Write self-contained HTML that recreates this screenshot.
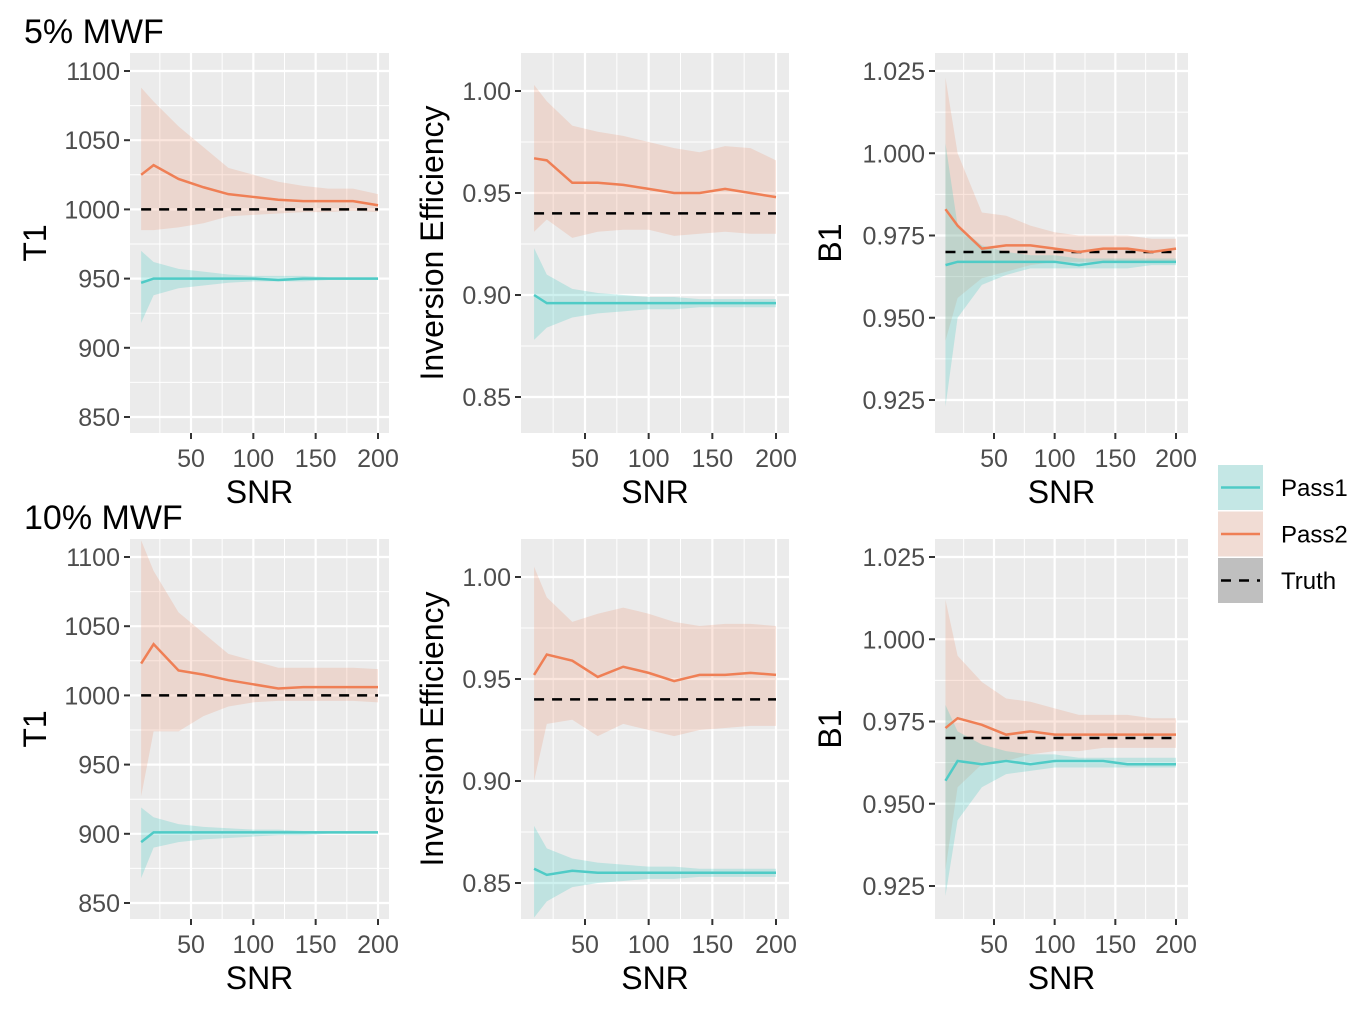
<!DOCTYPE html>
<html><head><meta charset="utf-8"><style>
body{margin:0;background:#fff;}
svg text{font-family:"Liberation Sans",Arial,sans-serif;}
</style></head><body>
<svg id="chart" width="1370" height="1006" xmlns="http://www.w3.org/2000/svg"></svg>
<script>
const snr = [10,20,40,60,80,100,120,140,160,180,200];
const xTicks = [50,100,150,200];
// Top row (5% MWF)
const t1_5_p2 = [1025,1032,1022,1016,1011,1009,1007,1006,1006,1006,1003];
const t1_5_p2_hi = [1088,1078,1060,1045,1030,1025,1020,1017,1015,1015,1011];
const t1_5_p2_lo = [985,985,987,990,995,996,997,998,998,999,998];
const t1_5_p1 = [947,950,950,950,950,950,949,950,950,950,950];
const t1_5_p1_hi = [970,962,957,955,953,952,952,952,951,951,951];
const t1_5_p1_lo = [918,938,943,945,947,948,948,948,949,949,949];
const ie_5_p2 = [0.967,0.966,0.955,0.955,0.954,0.952,0.950,0.950,0.952,0.950,0.948];
const ie_5_p2_hi = [1.003,0.995,0.983,0.980,0.978,0.975,0.972,0.970,0.973,0.972,0.966];
const ie_5_p2_lo = [0.931,0.937,0.928,0.931,0.932,0.932,0.929,0.930,0.931,0.930,0.930];
const ie_5_p1 = [0.900,0.896,0.896,0.896,0.896,0.896,0.896,0.896,0.896,0.896,0.896];
const ie_5_p1_hi = [0.923,0.910,0.903,0.901,0.900,0.899,0.899,0.898,0.898,0.898,0.898];
const ie_5_p1_lo = [0.878,0.884,0.889,0.891,0.892,0.893,0.893,0.894,0.894,0.894,0.894];
const b1_5_p2 = [0.983,0.978,0.971,0.972,0.972,0.971,0.970,0.971,0.971,0.970,0.971];
const b1_5_p2_hi = [1.023,1.000,0.982,0.981,0.978,0.976,0.975,0.975,0.975,0.974,0.974];
const b1_5_p2_lo = [0.943,0.956,0.962,0.964,0.966,0.967,0.967,0.967,0.967,0.967,0.967];
const b1_5_p1 = [0.966,0.967,0.967,0.967,0.967,0.967,0.966,0.967,0.967,0.967,0.967];
const b1_5_p1_hi = [1.003,0.978,0.972,0.970,0.969,0.969,0.968,0.968,0.968,0.968,0.968];
const b1_5_p1_lo = [0.923,0.950,0.960,0.963,0.965,0.965,0.965,0.965,0.965,0.966,0.966];
// Bottom row (10% MWF)
const t1_10_p2 = [1023,1037,1018,1015,1011,1008,1005,1006,1006,1006,1006];
const t1_10_p2_hi = [1112,1090,1060,1045,1030,1025,1020,1020,1020,1020,1019];
const t1_10_p2_lo = [927,974,974,985,992,995,996,996,996,996,995];
const t1_10_p1 = [894,901,901,901,901,901,901,901,901,901,901];
const t1_10_p1_hi = [919,912,907,905,904,903,903,902,902,902,902];
const t1_10_p1_lo = [868,890,894,896,897,898,899,899,900,900,900];
const ie_10_p2 = [0.952,0.962,0.959,0.951,0.956,0.953,0.949,0.952,0.952,0.953,0.952];
const ie_10_p2_hi = [1.005,0.990,0.978,0.982,0.985,0.982,0.978,0.976,0.977,0.977,0.976];
const ie_10_p2_lo = [0.900,0.928,0.930,0.922,0.928,0.925,0.922,0.925,0.926,0.927,0.927];
const ie_10_p1 = [0.857,0.854,0.856,0.855,0.855,0.855,0.855,0.855,0.855,0.855,0.855];
const ie_10_p1_hi = [0.878,0.867,0.862,0.860,0.859,0.858,0.858,0.857,0.857,0.857,0.857];
const ie_10_p1_lo = [0.833,0.841,0.848,0.850,0.851,0.852,0.852,0.853,0.853,0.853,0.853];
const b1_10_p2 = [0.973,0.976,0.974,0.971,0.972,0.971,0.971,0.971,0.971,0.971,0.971];
const b1_10_p2_hi = [1.012,0.995,0.987,0.982,0.981,0.979,0.977,0.977,0.977,0.976,0.976];
const b1_10_p2_lo = [0.930,0.955,0.962,0.963,0.965,0.966,0.966,0.967,0.967,0.967,0.967];
const b1_10_p1 = [0.957,0.963,0.962,0.963,0.962,0.963,0.963,0.963,0.962,0.962,0.962];
const b1_10_p1_hi = [0.980,0.972,0.968,0.966,0.965,0.965,0.964,0.964,0.964,0.964,0.964];
const b1_10_p1_lo = [0.922,0.945,0.955,0.959,0.960,0.961,0.961,0.961,0.961,0.961,0.961];
const t1Ticks = [850,900,950,1000,1050,1100];
const t1Labels = ["850","900","950","1000","1050","1100"];
const ieTicks = [0.85,0.90,0.95,1.00];
const ieLabels = ["0.85","0.90","0.95","1.00"];
const b1Ticks = [0.925,0.95,0.975,1.0,1.025];
const b1Labels = ["0.925","0.950","0.975","1.000","1.025"];
const truthT1 = 1000, truthIE = 0.94, truthB1 = 0.97;

const NS="http://www.w3.org/2000/svg";
const svg=document.getElementById('chart');
function mk(tag,attrs,parent){const e=document.createElementNS(NS,tag);for(const k in attrs)e.setAttribute(k,attrs[k]);(parent||svg).appendChild(e);return e;}

const C1="#4FCBC6", C2="#EF7F55";
const F1="rgba(79,203,198,0.28)", F2="rgba(239,140,105,0.22)";

function panel(name,box,xa,ya,ticks,labels,title,truth,p1,p1hi,p1lo,p2,p2hi,p2lo){
  const g=mk('g',{});
  
  
  const xs=v=>xa.px0+(v-xa.v0)*(xa.px1-xa.px0)/(xa.v1-xa.v0);
  const ys=v=>ya.px0+(v-ya.v0)*(ya.px1-ya.px0)/(ya.v1-ya.v0);
  const bg=mk('rect',{x:box.l,y:box.t,width:box.r-box.l,height:box.b-box.t,fill:'#EBEBEB'},g);
  
  
  for(let i=0;i<ticks.length-1;i++){const m=(ticks[i]+ticks[i+1])/2;mk('line',{x1:box.l,x2:box.r,y1:ys(m),y2:ys(m),stroke:'#fff','stroke-width':1},g);}
  [ticks[0]-(ticks[1]-ticks[0])/2, ticks[ticks.length-1]+(ticks[1]-ticks[0])/2].forEach(m=>{const y=ys(m);if(y>box.t&&y<box.b)mk('line',{x1:box.l,x2:box.r,y1:y,y2:y,stroke:'#fff','stroke-width':1},g);});
  [25,75,125,175].forEach(m=>mk('line',{x1:xs(m),x2:xs(m),y1:box.t,y2:box.b,stroke:'#fff','stroke-width':1},g));
  ticks.forEach((t,i)=>{const y=ys(t);mk('line',{x1:box.l,x2:box.r,y1:y,y2:y,stroke:'#fff','stroke-width':2.2},g);
    mk('line',{x1:box.l-6,x2:box.l,y1:y,y2:y,stroke:'#333','stroke-width':2},g);
    const tx=mk('text',{x:box.l-10,y:y+9,'text-anchor':'end','font-size':25,fill:'#4D4D4D'},g);tx.textContent=labels[i];
    });
  xTicks.forEach(t=>{const x=xs(t);mk('line',{x1:x,x2:x,y1:box.t,y2:box.b,stroke:'#fff','stroke-width':2.2},g);
    mk('line',{x1:x,x2:x,y1:box.b,y2:box.b+6,stroke:'#333','stroke-width':2},g);
    const tx=mk('text',{x:x,y:box.b+34,'text-anchor':'middle','font-size':25,fill:'#4D4D4D'},g);tx.textContent=t;
    });
  function ribbon(hi,lo,fill,n){let d='';snr.forEach((s,i)=>{d+=(i?'L':'M')+xs(s)+','+ys(hi[i]);});for(let i=snr.length-1;i>=0;i--)d+='L'+xs(snr[i])+','+ys(lo[i]);
    const p=mk('path',{d:d+'Z',fill:fill},g);}
  function line(v,col,n){const p=mk('polyline',{points:snr.map((s,i)=>xs(s)+','+ys(v[i])).join(' '),fill:'none',stroke:col,'stroke-width':2.5},g);
    }
  ribbon(p2hi,p2lo,F2,'pass2-ribbon');ribbon(p1hi,p1lo,F1,'pass1-ribbon');
  const tl=mk('line',{x1:xs(snr[0]),x2:xs(snr[snr.length-1]),y1:ys(truth),y2:ys(truth),stroke:'#000','stroke-width':2.5,'stroke-dasharray':'10,8'},g);
  
  line(p2,C2,'pass2-line');line(p1,C1,'pass1-line');
  const xt=mk('text',{x:(box.l+box.r)/2,y:box.b+70,'text-anchor':'middle','font-size':32,fill:'#000'},g);xt.textContent='SNR';
  
  const cy=(box.t+box.b)/2;
  const yt=mk('text',{x:title.x,y:cy,'text-anchor':'middle','font-size':32,fill:'#000',transform:`rotate(-90 ${title.x} ${cy})`},g);yt.textContent=title.t;
  
}
const rows=[{t:53,b:433,off:0},{t:539,b:919,off:486}];
const cols=[
 {l:130,r:389,xa:{v0:50,px0:191,v1:200,px1:378},tk:t1Ticks,lb:t1Labels,ya:(o)=>({v0:1100,px0:71+o,v1:850,px1:417+o}),title:{x:46,t:'T1'},truth:truthT1},
 {l:521,r:789,xa:{v0:50,px0:585,v1:200,px1:776},tk:ieTicks,lb:ieLabels,ya:(o)=>({v0:1.0,px0:91+o,v1:0.85,px1:397+o}),title:{x:443,t:'Inversion Efficiency'},truth:truthIE},
 {l:935,r:1188,xa:{v0:50,px0:994,v1:200,px1:1176},tk:b1Ticks,lb:b1Labels,ya:(o)=>({v0:1.025,px0:71+o,v1:0.925,px1:400+o}),title:{x:841,t:'B1'},truth:truthB1}];
const sets=[[[t1_5_p1,t1_5_p1_hi,t1_5_p1_lo,t1_5_p2,t1_5_p2_hi,t1_5_p2_lo],[ie_5_p1,ie_5_p1_hi,ie_5_p1_lo,ie_5_p2,ie_5_p2_hi,ie_5_p2_lo],[b1_5_p1,b1_5_p1_hi,b1_5_p1_lo,b1_5_p2,b1_5_p2_hi,b1_5_p2_lo]],
 [[t1_10_p1,t1_10_p1_hi,t1_10_p1_lo,t1_10_p2,t1_10_p2_hi,t1_10_p2_lo],[ie_10_p1,ie_10_p1_hi,ie_10_p1_lo,ie_10_p2,ie_10_p2_hi,ie_10_p2_lo],[b1_10_p1,b1_10_p1_hi,b1_10_p1_lo,b1_10_p2,b1_10_p2_hi,b1_10_p2_lo]]];
const names=[['t1-5pct-panel','ie-5pct-panel','b1-5pct-panel'],['t1-10pct-panel','ie-10pct-panel','b1-10pct-panel']];
rows.forEach((r,ri)=>cols.forEach((c,ci)=>{const d=sets[ri][ci];
  panel(names[ri][ci],{l:c.l,r:c.r,t:r.t,b:r.b},c.xa,c.ya(r.off),c.tk,c.lb,c.title,c.truth,...d);}));
const h1=mk('text',{x:24,y:43,'font-size':34,fill:'#000'});h1.textContent='5% MWF';

const h2=mk('text',{x:24,y:529,'font-size':34,fill:'#000'});h2.textContent='10% MWF';

const lg=mk('g',{});


const legItems=[{t:'Pass1',fill:F1,col:C1,dash:null},{t:'Pass2',fill:F2,col:C2,dash:null},{t:'Truth',fill:'rgba(150,150,150,0.55)',col:'#000',dash:'10,8'}];
legItems.forEach((it,i)=>{const y=465+i*46.5;
  const e=mk('g',{},lg);
  mk('rect',{x:1218,y:y,width:45,height:45,fill:'#F2F2F2'},e);
  mk('rect',{x:1218,y:y,width:45,height:45,fill:it.fill},e);
  const l=mk('line',{x1:1221,x2:1260,y1:y+22.5,y2:y+22.5,stroke:it.col,'stroke-width':2.5},e);if(it.dash)l.setAttribute('stroke-dasharray',it.dash);
  const t=mk('text',{x:1281,y:y+31,'font-size':24,fill:'#000'},e);t.textContent=it.t;});
</script>
</body></html>
